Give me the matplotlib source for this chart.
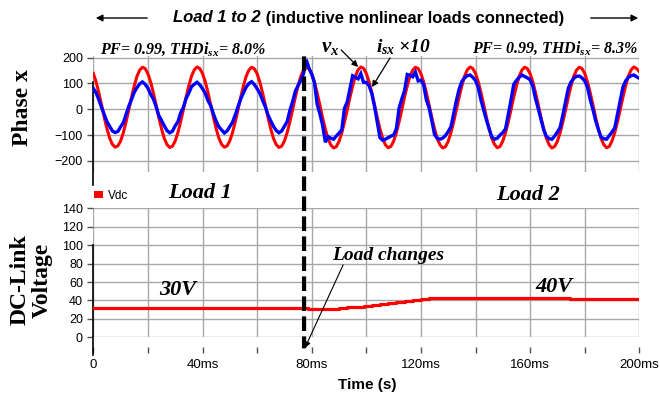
import numpy as np
import matplotlib
matplotlib.use("Agg")
import matplotlib.pyplot as plt
from matplotlib.patches import ConnectionPatch, Patch, FancyArrowPatch

plt.rcParams['font.family'] = ['Liberation Sans', 'DejaVu Sans']
plt.rcParams['mathtext.fontset'] = 'custom'
plt.rcParams['mathtext.it'] = 'Liberation Serif:italic:bold'
plt.rcParams['mathtext.rm'] = 'Liberation Serif:italic:bold'
plt.rcParams['mathtext.bf'] = 'Liberation Serif:italic:bold'

# ---------------- data ----------------
time_ms = np.arange(0, 201)  # 1 ms samples, 0 .. 200 ms

v_x = [
    139, 107, 65, 18, -31, -75, -112, -136, -147, -142, -123, -91, -49, -2, 47, 91, 128, 152, 163, 158,
    138, 106, 64, 17, -32, -76, -113, -137, -148, -143, -123, -90, -48, -1, 48, 92, 129, 153, 164, 158,
    139, 107, 65, 18, -31, -75, -112, -136, -147, -142, -122, -90, -49, -2, 47, 91, 128, 152, 163, 157,
    138, 106, 64, 17, -32, -76, -113, -137, -148, -143, -123, -91, -49, -2, 47, 91, 128, 152, 162, 157,
    137, 105, 63, 16, -33, -77, -114, -138, -150, -145, -125, -92, -50, -3, 46, 90, 128, 153, 164, 159,
    139, 107, 65, 18, -31, -76, -113, -138, -149, -144, -124, -91, -49, -2, 47, 91, 128, 152, 163, 158,
    138, 106, 64, 17, -32, -76, -114, -138, -150, -145, -124, -91, -49, -2, 47, 91, 129, 153, 164, 158,
    139, 107, 65, 18, -31, -75, -113, -137, -149, -144, -123, -91, -49, -2, 47, 91, 128, 152, 163, 158,
    138, 106, 64, 17, -32, -76, -113, -138, -150, -144, -124, -91, -49, -2, 47, 91, 128, 152, 163, 158,
    139, 107, 65, 18, -31, -76, -113, -137, -149, -144, -123, -91, -49, -2, 47, 91, 128, 153, 164, 158,
    146,
]

i_sx10 = [
    81, 64, 38, 8, -20, -48, -66, -84, -90, -86, -68, -52, -20, 12, 38, 66, 84, 99, 106, 97,
    82, 58, 40, 10, -24, -44, -64, -83, -91, -85, -64, -48, -14, 8, 42, 63, 88, 97, 105, 95,
    80, 62, 34, 14, -18, -46, -68, -80, -92, -84, -67, -50, -22, 10, 40, 64, 86, 100, 107, 96,
    80, 62, 35, 10, -22, -45, -66, -82, -91, -84, -66, -48, -5, 30, 70, 92, 112, 138, 192, 160,
    136, 104, 20, -18, -62, -128, -106, -112, -116, -104, -92, -80, 4, 28, 80, 130, 124, 118, 138, 104,
    104, 92, 62, 12, -50, -110, -120, -116, -110, -104, -100, -76, 4, 40, 72, 135, 132, 126, 144, 110,
    113, 96, 36, 6, -44, -98, -112, -116, -112, -102, -86, -68, -18, 34, 78, 108, 122, 130, 133, 124,
    112, 84, 36, -3, -42, -76, -108, -116, -112, -100, -90, -76, -20, 36, 96, 112, 124, 133, 127, 122,
    114, 90, 40, 2, -40, -80, -106, -114, -116, -104, -88, -70, -22, 30, 82, 106, 120, 128, 129, 122,
    110, 86, 38, 0, -44, -78, -108, -114, -116, -102, -88, -72, -20, 34, 86, 110, 124, 130, 133, 126,
    120,
]

vdc_time = [0, 77.5, 78.5, 87, 90, 93, 96, 99, 102, 105, 108, 111, 114, 117, 120, 123, 125, 173.5, 174.5, 200]
vdc_volts = [32.1, 32.1, 30.7, 30.7, 31.5, 32.4, 33.4, 34.4, 35.5, 36.5, 37.6, 38.6, 39.6, 40.6, 41.6, 42.3, 43.0, 43.0, 41.3, 41.3]

load_change_ms = 77.2
top_yticks = [-200, -100, 0, 100, 200]
bot_yticks = [0, 20, 40, 60, 80, 100, 120, 140]
x_major = [0, 40, 80, 120, 160, 200]
x_labels = ['0', '40ms', '80ms', '120ms', '160ms', '200ms']
x_minor = [20, 60, 100, 140, 180]

# ---------------- figure ----------------
W, H = 660, 399
fig = plt.figure(figsize=(W / 100, H / 100), dpi=100)


def fx(px):
    return px / W


def fy(py):
    return 1 - py / H


GRID = '#a8a8a8'
TICK = '#505050'
SERIF = 'Liberation Serif'

ax1 = fig.add_axes([fx(93.3), fy(172.5), fx(639.3) - fx(93.3), fy(56.4) - fy(172.5)])
ax2 = fig.add_axes([fx(93.3), fy(337.3), fx(639.3) - fx(93.3), fy(208.3) - fy(337.3)])

# top panel
ax1.plot(time_ms, v_x, color='#ff0000', lw=2.2, solid_joinstyle='round', zorder=3)
ax1.plot(time_ms, i_sx10, color='#0000ff', lw=2.4, solid_joinstyle='miter', zorder=4)
ax1.set_xlim(0, 200)
ax1.set_ylim(-245, 205)
ax1.set_yticks(top_yticks)
ax1.set_xticks(x_major + x_minor)
ax1.tick_params(axis='x', length=0, labelbottom=False)
ax1.tick_params(axis='y', direction='out', length=4.5, width=1, color=TICK, pad=3, labelsize=9)
ax1.grid(True, color=GRID, lw=1.0)
ax1.set_axisbelow(True)
for s in ['top', 'right', 'bottom']:
    ax1.spines[s].set_visible(False)
ax1.spines['left'].set_bounds(-293, 105)
ax1.spines['left'].set_color('black')
ax1.spines['left'].set_linewidth(1.2)

# bottom panel
ax2.plot(vdc_time, vdc_volts, color='#ff0000', lw=2.3, drawstyle='steps-post', zorder=3)
ax2.set_xlim(0, 200)
ax2.set_ylim(0, 140)
ax2.set_yticks(bot_yticks)
ax2.set_xticks(x_major)
ax2.set_xticklabels(x_labels)
ax2.set_xticks(x_minor, minor=True)
ax2.grid(True, which='both', color=GRID, lw=1.0)
ax2.set_axisbelow(True)
ax2.spines['bottom'].set_position(('outward', 9.4))
ax2.spines['bottom'].set_color('none')
for s in ['top', 'right']:
    ax2.spines[s].set_visible(False)
ax2.spines['left'].set_bounds(-19, 100)
ax2.spines['left'].set_color('black')
ax2.spines['left'].set_linewidth(1.2)
ax2.tick_params(axis='x', which='both', direction='inout', length=4.5, width=1, color=TICK, pad=4, labelsize=9.5)
ax2.tick_params(axis='y', direction='out', length=4.5, width=1, color=TICK, pad=3, labelsize=9)

ax2.legend(handles=[Patch(facecolor='#ff0000', edgecolor='none', label='Vdc')],
           loc='center left', bbox_to_anchor=(fx(94), fy(196)), bbox_transform=fig.transFigure,
           frameon=False, handlelength=0.75, handleheight=0.5, handletextpad=0.4,
           borderaxespad=0, borderpad=0, fontsize=8.5)

# dashed load-change line spanning both panels
con = ConnectionPatch(xyA=(load_change_ms, 205), coordsA=ax1.transData,
                      xyB=(load_change_ms, -12), coordsB=ax2.transData,
                      color='black', lw=3, linestyle=(0, (3.5, 1.3)), capstyle='butt')
fig.add_artist(con)

# arrows in the top panel
arrow_kw = dict(arrowstyle='-|>', color='black', lw=0.9, mutation_scale=9, shrinkA=0, shrinkB=0)
ax1.annotate('', xy=(97.0, 164), xytext=(90.8, 230), arrowprops=arrow_kw, annotation_clip=False)
ax1.annotate('', xy=(102.1, 86), xytext=(108.7, 199), arrowprops=arrow_kw, annotation_clip=False)
# load changes arrow
ax2.annotate('', xy=(77.5, -11.6), xytext=(91.5, 78.5),
             arrowprops=dict(arrowstyle='-|>', color='black', lw=0.8, mutation_scale=9, shrinkA=0, shrinkB=0),
             annotation_clip=False)

# title with arrows
t1 = fig.text(fx(173), fy(18), 'Load 1 to 2', ha='left', va='center', fontsize=12,
              fontweight='bold', fontstyle='italic')
ax1.annotate(' (inductive nonlinear loads connected)', xy=(1, 0), xycoords=t1, ha='left', va='bottom',
             fontsize=12, fontweight='bold', annotation_clip=False)
fig.add_artist(FancyArrowPatch((fx(150), fy(18)), (fx(93), fy(18)), transform=fig.transFigure,
                               arrowstyle='-|>', mutation_scale=10, lw=1.0, color='black'))
fig.add_artist(FancyArrowPatch((fx(588), fy(18)), (fx(641), fy(18)), transform=fig.transFigure,
                               arrowstyle='-|>', mutation_scale=10, lw=1.0, color='black'))

serif_bi = dict(family=SERIF, fontweight='bold', fontstyle='italic')
fig.text(fx(100), fy(49), r'PF= 0.99, THD$i_{sx}$= 8.0%', ha='left', va='center', fontsize=11.5, **serif_bi)
fig.text(fx(638), fy(48), r'PF= 0.99, THD$i_{sx}$= 8.3%', ha='right', va='center', fontsize=11.5, **serif_bi)
fig.text(fx(330), fy(47), r'$v_x$', ha='center', va='center', fontsize=15, **serif_bi)
fig.text(fx(404), fy(47), r'$i_{sx}$ ×10', ha='center', va='center', fontsize=14, **serif_bi)

fig.text(fx(200), fy(193), 'Load 1', ha='center', va='center', fontsize=16, **serif_bi)
fig.text(fx(528), fy(195), 'Load 2', ha='center', va='center', fontsize=16, **serif_bi)
fig.text(fx(178), fy(290), '30V', ha='center', va='center', fontsize=16, **serif_bi)
fig.text(fx(554), fy(287), '40V', ha='center', va='center', fontsize=16, **serif_bi)
fig.text(fx(388), fy(255), 'Load changes', ha='center', va='center', fontsize=14, **serif_bi)

# axis labels
fig.text(fx(23), fy(108), 'Phase x', rotation=90, ha='center', va='center', fontsize=17,
         family=SERIF, fontweight='bold')
fig.text(fx(31), fy(280), 'DC-Link\nVoltage', rotation=90, ha='center', va='center', fontsize=17,
         family=SERIF, fontweight='bold', multialignment='center', linespacing=1.1)
fig.text(fx(367), fy(385), 'Time (s)', ha='center', va='center', fontsize=11, fontweight='bold')

fig.savefig('out.png', dpi=100)
